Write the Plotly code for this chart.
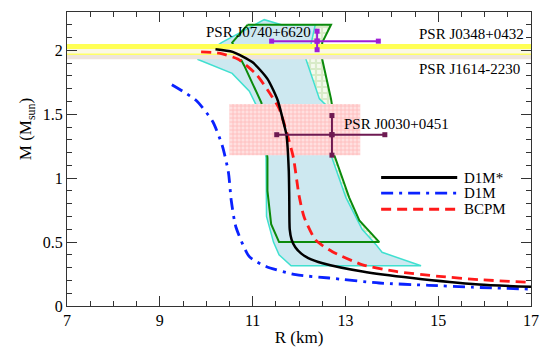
import plotly.graph_objects as go

# ---------------- data (R in km, M in M_sun) ----------------
R_d1mstar = [10.20, 10.57, 11.00, 11.32, 11.54, 11.68, 11.73, 11.78, 11.79, 11.80, 11.84, 11.92, 12.05, 12.20, 12.51, 13.37, 14.44, 15.88, 17.0]
M_d1mstar = [2.009, 1.988, 1.906, 1.777, 1.610, 1.417, 1.339, 1.056, 0.850, 0.600, 0.520, 0.460, 0.410, 0.375, 0.335, 0.270, 0.219, 0.168, 0.150]

R_d1m = [9.26, 9.78, 10.14, 10.35, 10.48, 10.54, 10.64, 10.93, 11.29, 11.93, 12.65, 13.73, 14.80, 15.73, 17.0]
M_d1m = [1.731, 1.610, 1.443, 1.250, 1.043, 0.825, 0.618, 0.386, 0.309, 0.245, 0.219, 0.180, 0.162, 0.147, 0.132]

R_bcpm = [9.89, 10.28, 10.68, 11.07, 11.32, 11.57, 11.75, 11.88, 12.00, 12.11, 12.36, 12.72, 13.37, 14.09, 15.02, 15.88, 17.0]
M_bcpm = [1.988, 1.978, 1.932, 1.816, 1.692, 1.546, 1.339, 1.159, 0.866, 0.696, 0.515, 0.425, 0.322, 0.270, 0.232, 0.206, 0.185]

# NICER-type constraint regions
R_cyan = [9.81, 10.33, 11.25, 11.62, 12.35, 12.26, 12.15, 12.44, 12.65, 12.69, 13.01, 13.36, 13.66, 13.79, 14.63, 11.83, 11.57, 11.45, 11.30, 11.29, 11.08, 10.93, 10.56, 9.81]
M_cyan = [1.93, 2.06, 2.24, 2.20, 2.20, 2.05, 1.93, 1.62, 1.55, 1.18, 0.85, 0.60, 0.48, 0.42, 0.315, 0.315, 0.40, 0.50, 0.70, 1.16, 1.57, 1.68, 1.82, 1.93]

R_green = [10.89, 12.69, 12.50, 12.50, 12.69, 12.72, 12.76, 13.08, 13.30, 13.73, 11.57, 11.40, 11.32, 11.32, 11.19, 10.82, 10.56, 10.89]
M_green = [2.20, 2.20, 2.06, 1.93, 1.62, 1.55, 1.18, 0.85, 0.67, 0.50, 0.50, 0.64, 0.90, 1.16, 1.59, 1.88, 2.06, 2.20]

# pulsar mass bands
J0348_M, J0348_err = 2.01, 0.04
J1614_M, J1614_err = 1.97, 0.04

# J0740+6620
J0740_R, J0740_Rlo, J0740_Rhi = 12.39, 0.98, 1.32
J0740_M, J0740_Merr_lo, J0740_Merr_hi = 2.072, 0.067, 0.078
# J0030+0451
J0030_R, J0030_Rlo, J0030_Rhi = 12.71, 1.19, 1.14
J0030_M, J0030_Mlo, J0030_Mhi = 1.34, 0.16, 0.15
# J0030 box
box_R = [10.50, 13.32]
box_M = [1.18, 1.58]

XR = [7, 17]
YR = [0, 2.3]

SERIF = "Liberation Serif, Times New Roman, serif"

fig = go.Figure()

# green region with checker pattern
fig.add_trace(go.Scatter(x=R_green, y=M_green, mode="lines", fill="toself",
                         line=dict(width=0, color="rgba(0,0,0,0)"),
                         fillcolor="#c6e2b0",
                         fillpattern=dict(shape="+", fgcolor="#bcdca2", bgcolor="#f4faee",
                                          size=6, solidity=0.6),
                         hoverinfo="skip", showlegend=False))
# cyan region
fig.add_trace(go.Scatter(x=R_cyan, y=M_cyan, mode="lines", fill="toself",
                         line=dict(width=1.5, color="#40e0d0"),
                         fillcolor="#cde8f0", hoverinfo="skip", showlegend=False))
# green outline
fig.add_trace(go.Scatter(x=R_green, y=M_green, mode="lines",
                         line=dict(width=2, color="#0b8a0b"),
                         hoverinfo="skip", showlegend=False))

# bands
lo1, hi1 = J0348_M - J0348_err, J0348_M + J0348_err
lo2, hi2 = J1614_M - J1614_err, J1614_M + J1614_err
ov_lo, ov_hi = max(lo1, lo2), min(hi1, hi2)

def band(y0, y1, color):
    fig.add_trace(go.Scatter(x=[XR[0], XR[1], XR[1], XR[0], XR[0]], y=[y0, y0, y1, y1, y0],
                             mode="lines", fill="toself", line=dict(width=0, color=color),
                             fillcolor=color, hoverinfo="skip", showlegend=False))

band(lo2, ov_lo, "#eee4dc")
band(ov_lo, ov_hi, "#fbf8e4")
band(ov_hi, hi1, "#ffff55")
fig.add_trace(go.Scatter(x=XR, y=[lo1, lo1], mode="lines", line=dict(width=1.5, color="#ffff66"),
                         hoverinfo="skip", showlegend=False))

# pink box
fig.add_trace(go.Scatter(x=[box_R[0], box_R[1], box_R[1], box_R[0], box_R[0]],
                         y=[box_M[0], box_M[0], box_M[1], box_M[1], box_M[0]],
                         mode="lines", fill="toself", line=dict(width=0, color="rgba(0,0,0,0)"),
                         fillcolor="#ffd0d0",
                         fillpattern=dict(shape="+", fgcolor="#ff9090", bgcolor="#ffe0e0",
                                          size=4, solidity=0.35),
                         hoverinfo="skip", showlegend=False))

# EoS curves
fig.add_trace(go.Scatter(x=R_d1m, y=M_d1m, mode="lines", name="D1M",
                         line=dict(color="#0a22ff", width=2.8, dash="12px,6px,3px,6px",
                                   shape="spline", smoothing=0.6), showlegend=False))
fig.add_trace(go.Scatter(x=R_bcpm, y=M_bcpm, mode="lines", name="BCPM",
                         line=dict(color="#ff1a1a", width=2.8, dash="10px,6px",
                                   shape="spline", smoothing=0.6), showlegend=False))
fig.add_trace(go.Scatter(x=R_d1mstar, y=M_d1mstar, mode="lines", name="D1M*",
                         line=dict(color="black", width=2.5, shape="spline", smoothing=0.6),
                         showlegend=False))

# error bars
def errbar(R, Rlo, Rhi, M, Mlo, Mhi, color):
    fig.add_trace(go.Scatter(x=[R - Rlo, R, R + Rhi], y=[M, M, M], mode="lines+markers",
                             line=dict(color=color, width=2),
                             marker=dict(symbol="square", size=5, color=color),
                             hoverinfo="skip", showlegend=False))
    fig.add_trace(go.Scatter(x=[R, R, R], y=[M - Mlo, M, M + Mhi], mode="lines+markers",
                             line=dict(color=color, width=2),
                             marker=dict(symbol="square", size=5, color=color),
                             hoverinfo="skip", showlegend=False))

errbar(J0740_R, J0740_Rlo, J0740_Rhi, J0740_M, J0740_Merr_lo, J0740_Merr_hi, "#9f1fd6")
errbar(J0030_R, J0030_Rlo, J0030_Rhi, J0030_M, J0030_Mlo, J0030_Mhi, "#6e1a52")

# labels
lab_font = dict(family=SERIF, size=15, color="black")
fig.add_annotation(x=16.9, y=2.125, text="PSR J0348+0432", showarrow=False, xanchor="right", font=lab_font)
fig.add_annotation(x=16.8, y=1.855, text="PSR J1614-2230", showarrow=False, xanchor="right", font=lab_font)
fig.add_annotation(x=9.96, y=2.143, text="PSR J0740+6620", showarrow=False, xanchor="left", font=lab_font)
fig.add_annotation(x=12.92, y=1.42, text="PSR J0030+0451", showarrow=False, xanchor="left", font=lab_font)

# legend (manual)
leg = [("D1M*", "black", "solid", 0.437), ("D1M", "#0a22ff", "12px,6px,3px,6px", 0.384),
       ("BCPM", "#ff1a1a", "10px,6px", 0.329)]
for name, col, dash, yy in leg:
    fig.add_shape(type="line", xref="paper", yref="paper", x0=0.677, x1=0.841, y0=yy, y1=yy,
                  line=dict(color=col, width=2.8, dash=dash))
    fig.add_annotation(xref="paper", yref="paper", x=0.853, y=yy, text=name, showarrow=False,
                       xanchor="left", yanchor="middle", borderpad=0,
                       font=dict(family=SERIF, size=15, color="black"))

# axis titles
fig.add_annotation(xref="paper", yref="paper", x=-0.087, y=0.6, text="M (M<sub>sun</sub>)",
                   textangle=-90, showarrow=False, xanchor="center", yanchor="middle",
                   font=dict(family=SERIF, size=17, color="black"))

axis_common = dict(showline=True, linecolor="#333", linewidth=1.2, mirror="ticks",
                   ticks="inside", ticklen=10, tickwidth=1.2, tickcolor="#333",
                   showgrid=False, zeroline=False,
                   tickfont=dict(family=SERIF, size=16, color="black"))

fig.update_xaxes(range=XR, tick0=7, dtick=2,
                 minor=dict(dtick=0.5, ticks="inside", ticklen=5, tickwidth=1.2, tickcolor="#333"),
                 title=dict(text="R (km)", font=dict(family=SERIF, size=17, color="black"), standoff=2),
                 **axis_common)
fig.update_yaxes(range=YR, tick0=0, dtick=0.5,
                 minor=dict(dtick=0.1, ticks="inside", ticklen=5, tickwidth=1.2, tickcolor="#333"),
                 tickvals=[0, 0.5, 1, 1.5, 2], ticktext=["0", "0.5", "1", "1.5", "2"],
                 **axis_common)

fig.update_layout(width=550, height=354, margin=dict(l=67, r=18, t=11, b=44),
                  plot_bgcolor="white", paper_bgcolor="white", showlegend=False)

fig.write_html("out.html", config={"displayModeBar": False},
               post_script="document.body.style.margin='0px';")
